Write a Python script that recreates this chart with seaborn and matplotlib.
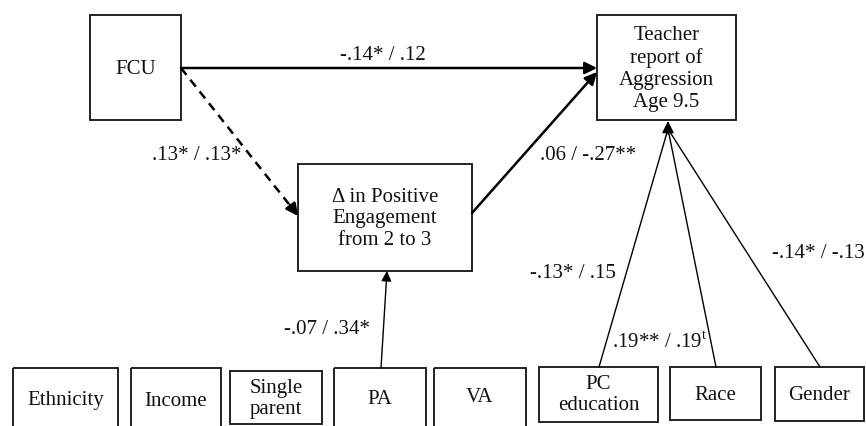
import matplotlib
matplotlib.use("Agg")
import matplotlib.pyplot as plt
from matplotlib.patches import Rectangle
import seaborn as sns

# node labels
top_nodes = ["FCU", "Teacher\nreport of\nAggression\nAge 9.5", "\u0394 in Positive\nEngagement\nfrom 2 to 3"]
covariates = ["Ethnicity", "Income", "Single\nparent", "PA", "VA", "PC\neducation", "Race", "Gender"]

# path coefficients (group 1 / group 2)
coef_fcu_agg = "-.14* / .12"
coef_fcu_eng = ".13* / .13*"
coef_eng_agg = ".06 / -.27**"
coef_pa_eng = "-.07 / .34*"
coef_pced_agg = "-.13* / .15"
coef_race_agg = ".19** / .19$^{\\mathrm{t}}$"
coef_gender_agg = "-.14* / -.13"

sns.set_theme(style="white")
plt.rcParams["font.family"] = ["Liberation Serif", "DejaVu Serif"]
plt.rcParams["mathtext.fontset"] = "custom"
plt.rcParams["mathtext.rm"] = "Liberation Serif"

W, H = 866, 426
fig = plt.figure(figsize=(W / 100, H / 100), dpi=100)
ax = fig.add_axes([0, 0, 1, 1])
ax.set_xlim(0, W)
ax.set_ylim(H, 0)
ax.axis("off")

FS = 15

# box layout: (x0, y0, x1, y1) in pixels
top_boxes = [(90, 15, 181, 120), (597, 15, 736, 120), (298, 164, 472, 271)]
top_text_y = [70, 69, 219]
cov_boxes = [(13, 368, 118, 432), (131, 368, 221, 432), (230, 371, 322, 424),
             (334, 368, 426, 432), (434, 368, 526, 432), (539, 367, 658, 422),
             (670, 367, 761, 420), (775, 367, 864, 421)]
cov_text_y = [400, 402, 399, 399, 398, 395, 395, 395]

for (x0, y0, x1, y1), lab, ty in zip(top_boxes, top_nodes, top_text_y):
    ax.add_patch(Rectangle((x0, y0), x1 - x0, y1 - y0, fill=False, ec="#222222", lw=1.4))
    ax.text((x0 + x1) / 2, ty, lab, ha="center", va="center",
            fontsize=FS, linespacing=1.2, color="#111111")

for (x0, y0, x1, y1), lab, ty in zip(cov_boxes, covariates, cov_text_y):
    ax.add_patch(Rectangle((x0, y0), x1 - x0, y1 - y0, fill=False, ec="#222222", lw=1.4))
    ax.text((x0 + x1) / 2, ty, lab, ha="center", va="center",
            fontsize=FS, linespacing=1.15, color="#111111")


def arrow(start, end, lw=1.6, head=16):
    ax.annotate("", xy=end, xytext=start,
                arrowprops=dict(arrowstyle="-|>", lw=lw, color="black",
                                shrinkA=0, shrinkB=0, mutation_scale=head))


# FCU -> Aggression
arrow((181, 68), (597, 68), lw=1.8, head=18)
# FCU -> Engagement (dashed)
ax.plot([181, 292], [68, 208], ls=(0, (3.5, 2.5)), lw=1.8, color="black")
arrow((290, 205), (298, 216), lw=1.8, head=18)
# Engagement -> Aggression
arrow((472, 213), (597, 72), lw=1.8, head=18)
# PA -> Engagement
arrow((381, 368), (387, 271), lw=1.0, head=15)
# covariates -> Aggression
apex = (668, 121)
for sx in [599, 716, 820]:
    ax.plot([sx, apex[0]], [367, apex[1] + 8], lw=1.0, color="black")
arrow((668, 134), apex, lw=1.0, head=18)

# coefficient labels
labels = [(coef_fcu_agg, 383, 55), (coef_fcu_eng, 197, 155), (coef_eng_agg, 588, 155),
          (coef_pa_eng, 327, 330), (coef_pced_agg, 573, 273), (coef_race_agg, 660, 342),
          (coef_gender_agg, 818, 253)]
for txt, x, y in labels:
    ax.text(x, y, txt, ha="center", va="center", fontsize=FS, color="#111111")

fig.savefig("out.png", dpi=100, facecolor="white")
